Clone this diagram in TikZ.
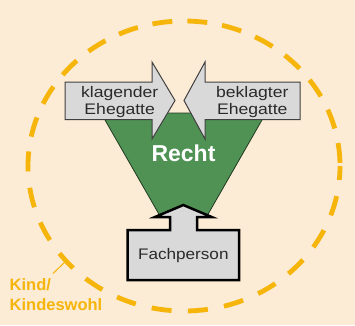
\documentclass[tikz,border=0pt]{standalone}
\usepackage{fontspec}
\setmainfont{Liberation Sans}
\newfontfamily\stretchfont[FakeStretch=1.12]{Liberation Sans}
\newfontfamily\widefont[FakeStretch=1.15]{Liberation Sans}
\definecolor{bgpeach}{HTML}{FCEBD5}
\definecolor{ringorange}{HTML}{F5B50A}
\definecolor{lawgreen}{HTML}{4F9254}
\definecolor{boxgray}{HTML}{D9D9D9}
\definecolor{textgray}{HTML}{2A2A2A}
\tikzset{
  ring/.style={draw=ringorange, line width=4.8pt},
  partyarrow/.style={fill=boxgray, draw=black!75, line width=1pt, line join=miter},
  partytext/.style={text=textgray, align=center, inner sep=0pt, font=\widefont\fontsize{15.3}{17}\selectfont},
  expertbox/.style={fill=boxgray, draw=black, line width=2.5pt, line join=miter},
  lawshape/.style={fill=lawgreen, draw=black!60!lawgreen, line width=0.8pt},
}
\begin{document}
\begin{tikzpicture}[x=1pt,y=-1pt]
\fill[bgpeach] (0,0) rectangle (355,325);
\useasboundingbox (0,0) rectangle (355,325);
% ring (lower half, then upper half)
\draw[ring, dash pattern=on 20pt off 16.43pt, dash phase=6pt] (340,166) arc [start angle=0, end angle=180, x radius=156, y radius=145];
\draw[ring, dash pattern=on 20pt off 15.03pt, dash phase=5.4pt] (28,166) arc [start angle=180, end angle=360, x radius=156, y radius=145];
\coordinate (ringpt) at (65.5,261.5);
\coordinate (labelpt) at (53,273.5);
\draw[ringorange, line width=1pt] (labelpt) -- (ringpt);
\node[anchor=base west, inner sep=0pt, align=left, text=ringorange, font=\bfseries\fontsize{16.5}{20}\selectfont] (kind) at (9.5,310) {Kind/\\Kindeswohl};
% law trapezoid
\draw[lawshape] (101,113) -- (266,113) -- (207,216) -- (160,216) -- cycle;
\node[anchor=base, inner sep=0pt, text=white, font=\bfseries\fontsize{23}{26}\selectfont] (recht) at (183.5,161) {Recht};
% left arrow
\draw[partyarrow] (65,82) -- (152,82) -- (152,62) -- (175,100.5) -- (152,139) -- (152,119.5) -- (65,119.5) -- cycle;
\node[partytext] (klaeger) at (119.7,102) {klagender\\Ehegatte};
% right arrow
\draw[partyarrow] (300,82) -- (205,82) -- (205,62) -- (184,100.5) -- (205,139) -- (205,119.5) -- (300,119.5) -- cycle;
\node[partytext] (beklagter) at (252.3,102) {beklagter\\Ehegatte};
% expert box with upward arrow
\draw[expertbox] (127.5,230) -- (170,230) -- (170,217) -- (155,217) -- (183.3,205) -- (211.7,217) -- (197,217) -- (197,230) -- (239,230) -- (239,280) -- (127.5,280) -- cycle;
\node[anchor=base, inner sep=0pt, text=textgray, font=\stretchfont\fontsize{15.3}{17}\selectfont] (fach) at (183.3,259.3) {Fachperson};
\end{tikzpicture}
\end{document}
